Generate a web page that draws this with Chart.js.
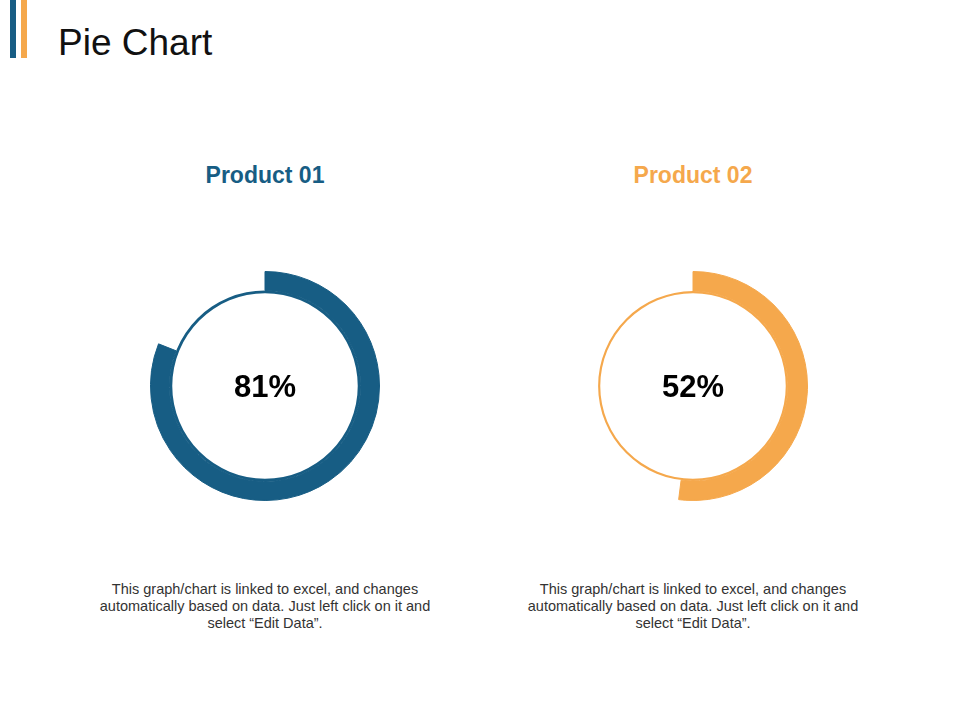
<!DOCTYPE html>
<html>
<head>
<meta charset="utf-8">
<script src="https://cdn.jsdelivr.net/npm/chart.js@4"></script>
<style>
  body { margin: 0; width: 960px; height: 720px; background: #fff; font-family: "Liberation Sans", Arial, sans-serif; position: relative; overflow: hidden; }
  .bar { position: absolute; top: 0; width: 6px; height: 58px; }
  h1 { position: absolute; left: 58px; top: 22px; margin: 0; font-weight: normal; font-size: 37px; color: #111; }
  .title { position: absolute; top: 162px; width: 300px; text-align: center; font-weight: bold; font-size: 23px; }
  .ring { position: absolute; top: 271px; width: 230px; height: 230px; }
  .pct { position: absolute; top: 369px; width: 200px; text-align: center; font-weight: bold; font-size: 31px; color: #000; }
  .desc { position: absolute; top: 581px; width: 360px; text-align: center; font-size: 14.5px; line-height: 17px; color: #333; }
</style>
</head>
<body>
<div class="bar" style="left:10px;background:#175d84"></div>
<div class="bar" style="left:21px;background:#f5a84c"></div>
<h1>Pie Chart</h1>
<div id="panels"></div>
<script>
// données
const products = ['Product 01', 'Product 02'];
const values = [81, 52];
const colors = ['#175d84', '#f5a84c'];
const centers = [265, 693];
const description = 'This graph/chart is linked to excel, and changes automatically based on data. Just left click on it and select \u201cEdit Data\u201d.';

const panels = document.getElementById('panels');

products.forEach((name, i) => {
  const cx = centers[i];

  const title = document.createElement('div');
  title.className = 'title';
  title.style.left = (cx - 150) + 'px';
  title.style.color = colors[i];
  title.textContent = name;
  panels.appendChild(title);

  const box = document.createElement('div');
  box.className = 'ring';
  box.style.left = (cx - 115) + 'px';
  const canvas = document.createElement('canvas');
  box.appendChild(canvas);
  panels.appendChild(box);

  const pct = document.createElement('div');
  pct.className = 'pct';
  pct.style.left = (cx - 100) + 'px';
  pct.textContent = values[i] + '%';
  panels.appendChild(pct);

  const desc = document.createElement('div');
  desc.className = 'desc';
  desc.style.left = (cx - 180) + 'px';
  desc.textContent = description;
  panels.appendChild(desc);

  // anneau épais = valeur, anneau fin = cercle complet
  new Chart(canvas, {
    type: 'doughnut',
    data: {
      labels: [name, ''],
      datasets: [
        {
          data: [values[i], 100 - values[i]],
          backgroundColor: [colors[i], 'rgba(0,0,0,0)'],
          borderColor: [colors[i], 'rgba(0,0,0,0)'],
          borderWidth: 1,
          weight: 20,
        },
        {
          data: [100],
          backgroundColor: [colors[i]],
          borderWidth: 0,
          weight: i === 0 ? 3 : 2.2,
        },
      ],
    },
    options: {
      responsive: true,
      maintainAspectRatio: false,
      animation: false,
      cutout: '81%',
      layout: { padding: 0 },
      plugins: { legend: { display: false }, tooltip: { enabled: false } },
    },
  });
});
</script>
</body>
</html>
